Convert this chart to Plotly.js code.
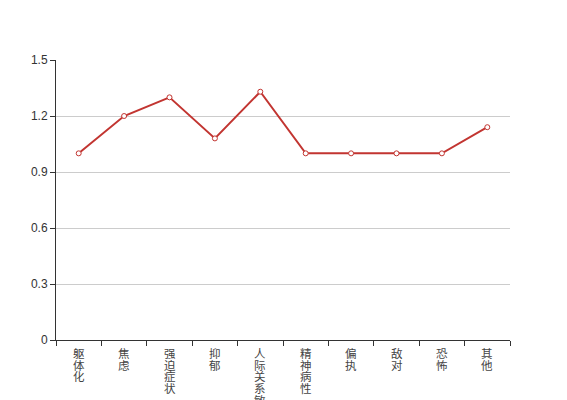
<!DOCTYPE html>
<html>
<head>
<meta charset="utf-8">
<script src="https://cdn.plot.ly/plotly-3.0.1.min.js"></script>
<style>html,body{margin:0;padding:0;background:#fff;}#chart{width:567px;height:400px;}</style>
</head>
<body>
<div id="chart"></div>
<script>
var categories = ["躯体化", "焦虑", "强迫症状", "抑郁", "人际关系敏感", "精神病性", "偏执", "敌对", "恐怖", "其他"];
var values = [1.0, 1.2, 1.3, 1.08, 1.33, 1.0, 1.0, 1.0, 1.0, 1.14];
var yTicks = [0, 0.3, 0.6, 0.9, 1.2, 1.5];
var yTickText = ["0", "0.3", "0.6", "0.9", "1.2", "1.5"];

var annotations = [];
categories.forEach(function (c) {
  Array.from(c).forEach(function (ch, i) {
    annotations.push({
      x: c, y: 0, xref: "x", yref: "paper",
      text: ch, showarrow: false,
      xanchor: "center", yanchor: "top",
      borderpad: 0,
      yshift: -4 - i * 11.7,
      font: {family: "Noto Sans CJK SC", size: 11.5, color: "#444"}
    });
  });
});

var trace = {
  type: "scatter",
  mode: "lines+markers",
  x: categories,
  y: values,
  line: {color: "#c23531", width: 2},
  marker: {symbol: "circle", size: 5, color: "#ffffff", line: {color: "#c23531", width: 1}},
  cliponaxis: false,
  hoverinfo: "x+y"
};

var layout = {
  width: 567, height: 400,
  margin: {l: 56, r: 57, t: 60, b: 60},
  paper_bgcolor: "#fff", plot_bgcolor: "#fff",
  showlegend: false,
  xaxis: {
    type: "category",
    range: [-0.5, categories.length - 0.5],
    tickson: "boundaries",
    ticks: "outside", ticklen: 5, tickcolor: "#333", tickwidth: 1,
    showticklabels: false,
    showline: true, linecolor: "#333", linewidth: 1,
    showgrid: false, zeroline: false, fixedrange: true
  },
  yaxis: {
    range: [0, 1.5],
    tickvals: yTicks, ticktext: yTickText,
    ticks: "outside", ticklen: 5, tickcolor: "#333", tickwidth: 1,
    tickfont: {family: "Liberation Sans, Arial, sans-serif", size: 12, color: "#333"},
    showline: true, linecolor: "#333", linewidth: 1,
    showgrid: true, gridcolor: "#ccc", gridwidth: 1,
    zeroline: false, fixedrange: true
  },
  annotations: annotations
};

Plotly.newPlot("chart", [trace], layout, {displayModeBar: false, staticPlot: true});
</script>
</body>
</html>
